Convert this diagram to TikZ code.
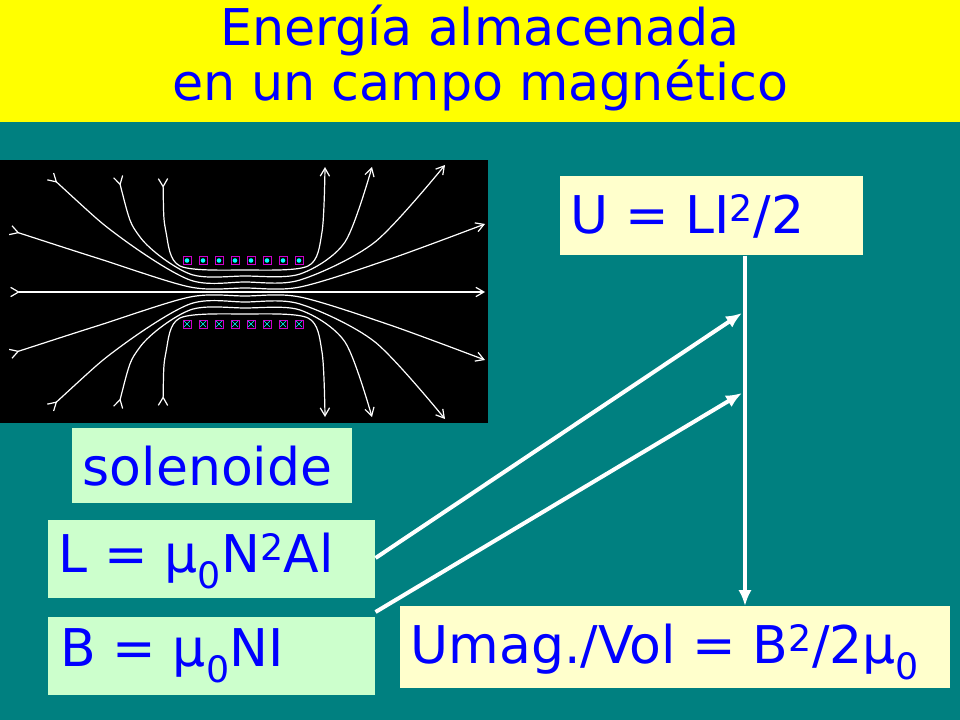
\documentclass[tikz,border=0pt]{standalone}
\usepackage{fontspec}
\setmainfont{DejaVu Sans}
\usetikzlibrary{arrows.meta}
\definecolor{teal0}{RGB}{0,128,128}
\definecolor{band}{RGB}{255,255,0}
\definecolor{ttl}{RGB}{0,0,255}
\definecolor{mint}{RGB}{204,255,204}
\definecolor{cream}{RGB}{255,255,204}
\definecolor{coilbox}{RGB}{204,0,204}
\definecolor{coilcore}{RGB}{0,255,255}
\tikzset{
  eqbox/.style={fill=mint, text=ttl, anchor=north west, inner sep=0pt},
  eqtext/.style={text=ttl, anchor=west, font=\fontsize{39}{44}\selectfont},
  fieldline/.style={white, line width=0.9pt, {Straight Barb[reversed,length=6pt,width=7pt]}-{Straight Barb[length=6pt,width=7pt]}},
  link/.style={white, line width=3pt, -{Latex[length=12pt,width=10pt]}}
}
\begin{document}
\begin{tikzpicture}[x=0.75pt,y=0.75pt,yscale=-1,xscale=1]
\useasboundingbox (0,0) rectangle (960,720);
%background and title band
\fill[teal0] (0,0) rectangle (960,720);
\fill[band] (0,0) rectangle (960,122);
\node[text=ttl, align=center, font=\fontsize{38}{41}\selectfont] (title) at (480,58) {Energía almacenada\\en un campo magnético};

%solenoid picture
\fill[black] (0,160) rectangle (488,423);
\draw[fieldline] (10,292) -- (485,292);
\foreach \s in {1,-1}{
  \draw[fieldline] plot[smooth] coordinates {(163,{292-\s*114}) (166,{292-\s*60}) (180,{292-\s*26}) (245,{292-\s*22}) (308,{292-\s*26}) (322,{292-\s*60}) (325,{292-\s*125})};
  \draw[fieldline] plot[smooth] coordinates {(118,{292-\s*116}) (140,{292-\s*55}) (190,{292-\s*18}) (245,{292-\s*16}) (300,{292-\s*18}) (345,{292-\s*50}) (372,{292-\s*125})};
  \draw[fieldline] plot[smooth] coordinates {(50,{292-\s*116}) (120,{292-\s*55}) (190,{292-\s*12}) (245,{292-\s*10}) (300,{292-\s*12}) (375,{292-\s*50}) (445,{292-\s*127})};
  \draw[fieldline] plot[smooth] coordinates {(10,{292-\s*62}) (100,{292-\s*33}) (190,{292-\s*5}) (245,{292-\s*4}) (300,{292-\s*5}) (390,{292-\s*33}) (485,{292-\s*68})};
}
\foreach \i in {0,...,7}{
  \draw[coilbox] ({183+16*\i},256) rectangle +(8,8);
  \fill[coilcore] ({187+16*\i},260.5) circle (2.3);
  \draw[coilbox] ({183+16*\i},320) rectangle +(8,8);
  \draw[coilcore, line width=0.4pt] ({184+16*\i},321) -- +(6,6) ({190+16*\i},321) -- +(-6,6);
}

%formula boxes
\node[eqbox, minimum width=210pt, minimum height=56.25pt] (sol) at (72,428) {};
\node[eqtext] at (78,466) {solenoide};
\node[eqbox, minimum width=245.25pt, minimum height=58.5pt] (L) at (48,520) {};
\node[eqtext] at (54,561) {L = μ\textsubscript{0}N\textsuperscript{2}Al};
\node[eqbox, minimum width=245.25pt, minimum height=58.5pt] (B) at (48,617) {};
\node[eqtext] at (56,656) {B = μ\textsubscript{0}NI};
\node[eqbox, fill=cream, minimum width=227.25pt, minimum height=59.25pt] (U) at (560,176) {};
\node[eqtext] at (566,216) {U = LI\textsuperscript{2}/2};
\node[eqbox, fill=cream, minimum width=412.5pt, minimum height=61.5pt] (Um) at (400,606) {};
\node[eqtext] at (406,652) {Umag./Vol = B\textsuperscript{2}/2μ\textsubscript{0}};

%connectors
\coordinate (j1) at (742,313);
\coordinate (j2) at (742,393);
\draw[link] (U.south -| 745,0) -- (Um.north -| 745,0);
\draw[link] (L.east |- 0,558) -- (j1);
\draw[link] (B.east |- 0,612) -- (j2);
\end{tikzpicture}
\end{document}
